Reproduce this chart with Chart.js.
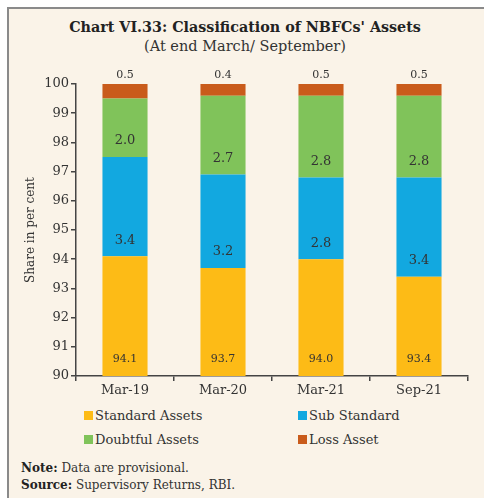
<!DOCTYPE html>
<html>
<head>
<meta charset="utf-8">
<script src="https://cdn.jsdelivr.net/npm/chart.js@4"></script>
<style>
  body { margin: 0; background: #fff; width: 484px; height: 498px; overflow: hidden; position: relative; font-family: "DejaVu Serif", serif; color: #333; }
  #frame { position: absolute; left: 7px; top: 7px; width: 490px; height: 500px; border-left: 2px solid #8a8a8a; border-top: 2px solid #8a8a8a; background: #faf3e8; }
  .title { position: absolute; left: 0; width: 490px; text-align: center; }
  #t1 { top: 19px; font-weight: bold; font-size: 14.3px; color: #222; }
  #t2 { top: 38px; font-size: 14.5px; color: #333; }
  #chartBox { position: absolute; left: 10px; top: 62px; width: 474px; height: 338px; }
  .leg { position: absolute; font-size: 13px; color: #333; white-space: nowrap; }
  .leg i { display: inline-block; width: 9px; height: 9px; margin-right: 2px; vertical-align: 0px; }
  .note { position: absolute; left: 21px; font-size: 12px; color: #333; }
  .note b { color: #222; }
</style>
</head>
<body>
<div id="frame"></div>
<div class="title" id="t1">Chart VI.33: Classification of NBFCs' Assets</div>
<div class="title" id="t2">(At end March/ September)</div>
<div id="chartBox"><canvas id="chart"></canvas></div>
<div id="legend"></div>
<div class="note" style="top:461px"><b>Note:</b> Data are provisional.</div>
<div class="note" style="top:478px"><b>Source:</b> Supervisory Returns, RBI.</div>
<script>
const categories = ['Mar-19', 'Mar-20', 'Mar-21', 'Sep-21'];
const standardAssets = [94.1, 93.7, 94.0, 93.4];
const subStandard = [3.4, 3.2, 2.8, 3.4];
const doubtfulAssets = [2.0, 2.7, 2.8, 2.8];
const lossAsset = [0.5, 0.4, 0.5, 0.5];
const seriesNames = ['Standard Assets', 'Sub Standard', 'Doubtful Assets', 'Loss Asset'];
const seriesColors = ['#fdbb16', '#12a8e0', '#80c35a', '#c95b1b'];
const yMin = 90, yMax = 100, yStep = 1;

// legend, two columns like the original
const legendPos = [[84, 408], [298, 408], [84, 432], [298, 432]];
const legendEl = document.getElementById('legend');
seriesNames.forEach((name, i) => {
    const d = document.createElement('div');
    d.className = 'leg';
    d.style.left = legendPos[i][0] + 'px';
    d.style.top = legendPos[i][1] + 'px';
    d.innerHTML = '<i style="background:' + seriesColors[i] + '"></i>' + name;
    legendEl.appendChild(d);
});

// value labels: segment value just above each segment's bottom, loss value above the bar
const barLabels = {
    id: 'barLabels',
    afterDatasetsDraw(chart) {
        const ctx = chart.ctx;
        const area = chart.chartArea;
        ctx.save();
        ctx.textAlign = 'center';
        ctx.textBaseline = 'middle';
        ctx.fillStyle = '#333';
        chart.data.datasets.forEach((ds, i) => {
            chart.getDatasetMeta(i).data.forEach((bar, j) => {
                const txt = ds.data[j].toFixed(1);
                const top = Math.max(bar.y, area.top);
                const bottom = Math.min(bar.base, area.bottom);
                if (i === 3) {
                    ctx.font = '11px "DejaVu Serif"';
                    ctx.fillText(txt, bar.x, top - 9);
                } else if (i === 0) {
                    ctx.font = '11px "DejaVu Serif"';
                    ctx.fillText(txt, bar.x, bottom - 17);
                } else {
                    ctx.font = '13px "DejaVu Serif"';
                    ctx.fillText(txt, bar.x, bottom - 16);
                }
            });
        });
        ctx.restore();
    }
};

const ctx = document.getElementById('chart').getContext('2d');
new Chart(ctx, {
    type: 'bar',
    data: {
        labels: categories,
        datasets: [standardAssets, subStandard, doubtfulAssets, lossAsset].map((vals, i) => ({
            label: seriesNames[i],
            data: vals,
            backgroundColor: seriesColors[i],
            categoryPercentage: 1,
            barPercentage: 0.46
        }))
    },
    options: {
        responsive: true,
        maintainAspectRatio: false,
        animation: false,
        layout: { padding: { top: 22, right: 16, left: 14, bottom: 0 } },
        plugins: {
            legend: { display: false },
            tooltip: { enabled: false }
        },
        scales: {
            x: {
                stacked: true,
                grid: { offset: true, drawOnChartArea: false, tickLength: 5, color: '#444', lineWidth: 1.5 },
                border: { color: '#444', width: 1.5 },
                ticks: { color: '#333', font: { family: 'DejaVu Serif', size: 13 }, padding: 2 },
                afterFit(scale) { scale.height = 24; }
            },
            y: {
                stacked: true,
                min: yMin,
                max: yMax,
                grid: { drawOnChartArea: false, tickLength: 5, color: '#444', lineWidth: 1.5 },
                border: { color: '#444', width: 1.5 },
                ticks: { stepSize: yStep, color: '#333', font: { family: 'DejaVu Serif', size: 13 }, padding: 2 },
                title: { display: true, text: 'Share in per cent', color: '#333', font: { family: 'DejaVu Serif', size: 12 }, padding: 0 },
                afterFit(scale) { scale.width = 52; }
            }
        }
    },
    plugins: [barLabels]
});
</script>
</body>
</html>
